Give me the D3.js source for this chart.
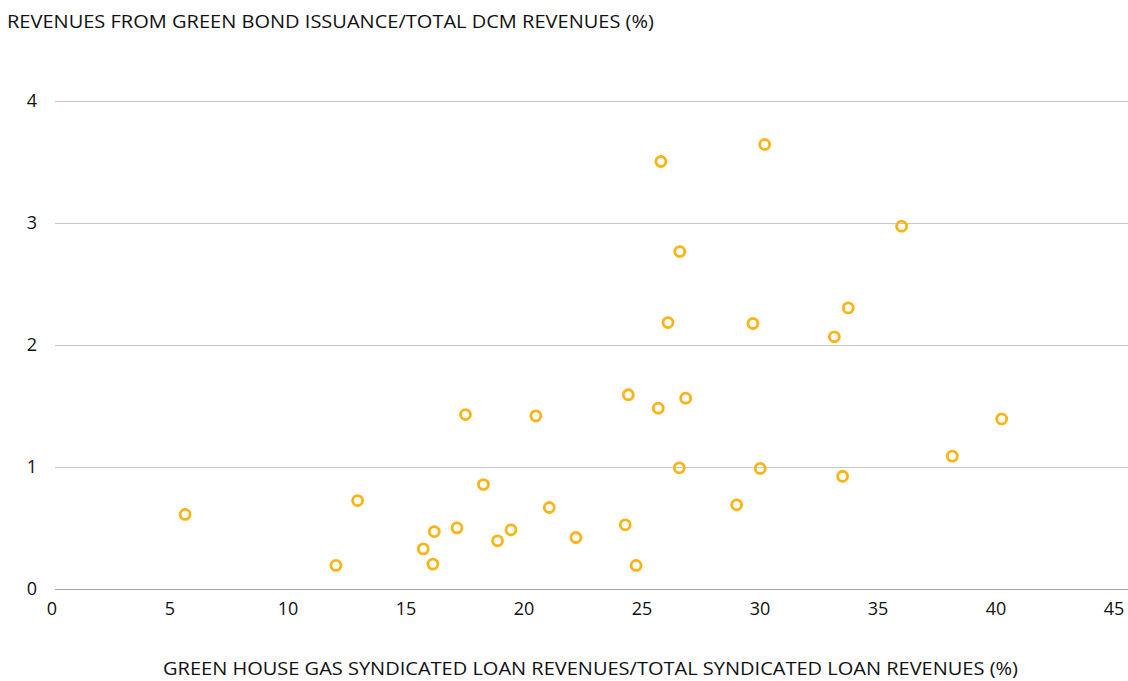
<!DOCTYPE html>
<html>
<head>
<meta charset="utf-8">
<script src="https://cdn.jsdelivr.net/npm/d3@7/dist/d3.min.js"></script>
<style>
  body { margin:0; background:#fff; }
  text { font-family:"Open Sans", "Noto Sans", sans-serif; fill:#111; }
</style>
</head>
<body>
<div id="chart"></div>
<script>
// share of GHG syndicated loan revenues (%), x
var loanShare = [5.64, 12.03, 12.95, 15.73, 16.14, 16.2, 17.16, 17.52, 18.28, 18.88,
  19.45, 20.5, 21.07, 22.2, 24.29, 24.42, 24.75, 25.8, 25.69, 26.1,
  26.58, 26.6, 26.85, 29.01, 29.7, 30.01, 30.2, 33.15, 33.5, 33.74,
  36.0, 38.15, 40.24];
// share of green bond revenues (%), y
var bondShare = [0.607, 0.189, 0.721, 0.325, 0.2, 0.467, 0.497, 1.426, 0.852, 0.391,
  0.481, 1.415, 0.664, 0.418, 0.522, 1.588, 0.189, 3.5, 1.478, 2.18,
  0.989, 2.762, 1.56, 0.686, 2.172, 0.984, 3.64, 2.063, 0.92, 2.3,
  2.97, 1.085, 1.39];
var xTicks = [0, 5, 10, 15, 20, 25, 30, 35, 40, 45];
var yTicks = [0, 1, 2, 3, 4];
var yTitle = 'REVENUES FROM GREEN BOND ISSUANCE/TOTAL DCM REVENUES (%)';
var xTitle = 'GREEN HOUSE GAS SYNDICATED LOAN REVENUES/TOTAL SYNDICATED LOAN REVENUES (%)';

var width = 1128, height = 681;
var svg = d3.select('#chart').append('svg')
  .attr('width', width).attr('height', height);

var x = d3.scaleLinear().domain([0, 45]).range([52, 1114]);
var y = d3.scaleLinear().domain([0, 4]).range([588.5, 100.5]);

// gridlines
svg.append('g').selectAll('line')
  .data(yTicks).enter().append('line')
  .attr('x1', 55).attr('x2', width)
  .attr('y1', function(d){ return Math.round(y(d)) + 0.5; })
  .attr('y2', function(d){ return Math.round(y(d)) + 0.5; })
  .attr('stroke', function(d){ return d == 0 ? '#a0a0a0' : '#c8c8c8'; })
  .attr('stroke-width', 1);

// y tick labels
svg.append('g').selectAll('text')
  .data(yTicks).enter().append('text')
  .attr('x', 37).attr('y', function(d){ return y(d); })
  .attr('dy', '0.36em')
  .attr('text-anchor', 'end')
  .style('font-size', '18px')
  .text(function(d){ return d; });

// x tick labels
svg.append('g').selectAll('text')
  .data(xTicks).enter().append('text')
  .attr('x', function(d){ return x(d); }).attr('y', 615)
  .attr('text-anchor', 'middle')
  .style('font-size', '18px')
  .text(function(d){ return d; });

// titles
svg.append('text')
  .attr('x', 7).attr('y', 28)
  .attr('textLength', 647).attr('lengthAdjust', 'spacingAndGlyphs')
  .style('font-size', '18.5px')
  .text(yTitle);

svg.append('text')
  .attr('x', 163).attr('y', 675)
  .attr('textLength', 855).attr('lengthAdjust', 'spacingAndGlyphs')
  .style('font-size', '18.5px')
  .text(xTitle);

// points
var pts = d3.range(loanShare.length).map(function(i){ return [loanShare[i], bondShare[i]]; });
svg.append('g').selectAll('circle')
  .data(pts).enter().append('circle')
  .attr('cx', function(d){ return x(d[0]); })
  .attr('cy', function(d){ return y(d[1]); })
  .attr('r', 5)
  .attr('fill', 'none')
  .attr('stroke', '#fbb316')
  .attr('stroke-width', 2.8);
</script>
</body>
</html>
